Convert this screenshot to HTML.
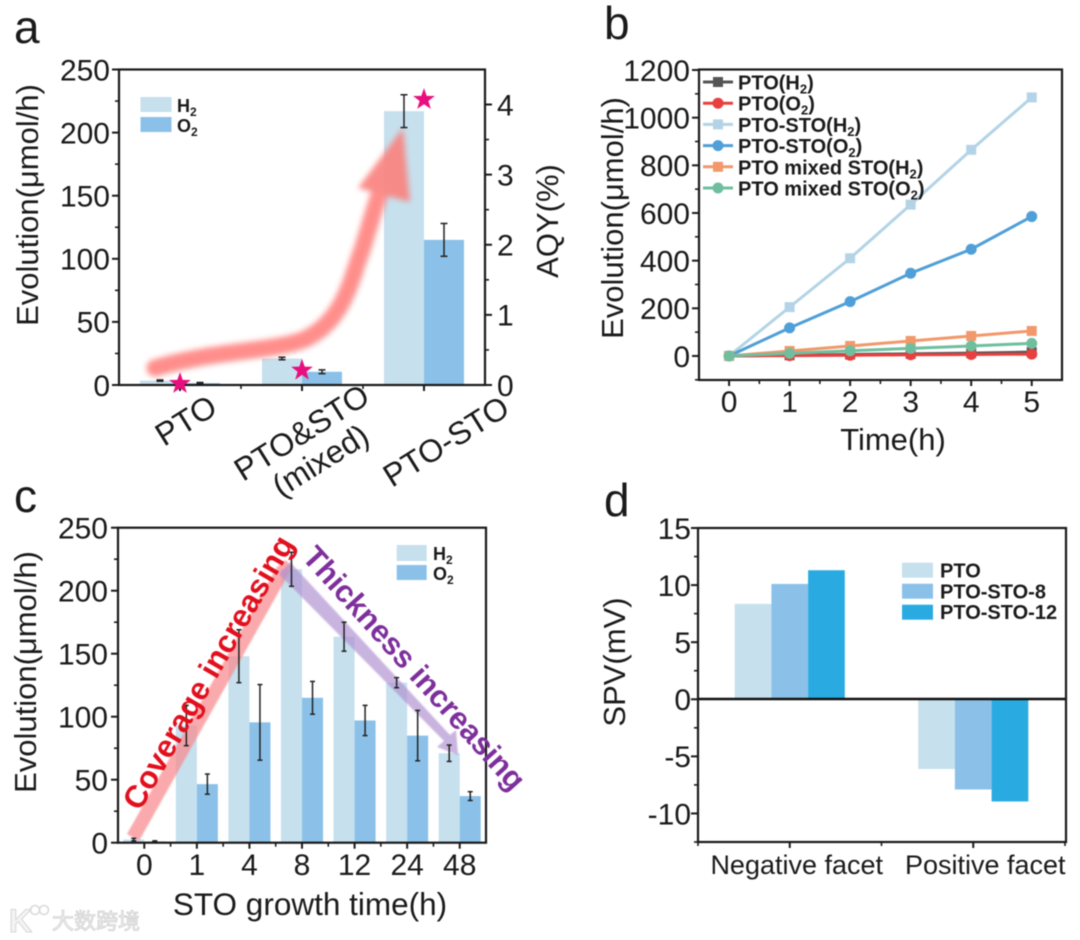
<!DOCTYPE html>
<html lang="en">
<head>
<meta charset="utf-8">
<title>Photocatalytic evolution charts</title>
<style>
html,body{margin:0;padding:0;background:#fff;width:1080px;height:940px;overflow:hidden}
svg{display:block;filter:blur(0.45px)}
text{font-family:"Liberation Sans","Noto Sans CJK SC",sans-serif;fill:#1a1a1a}
.title{font-size:31px}
.panel{font-size:46px}
.leg{font-size:18px;font-weight:bold}
.legb{font-size:20px;font-weight:bold}
.cat{font-size:32px}
</style>
</head>
<body>
<svg id="figure" width="1080" height="940" viewBox="0 0 1080 940" xmlns="http://www.w3.org/2000/svg">
<defs>
<filter id="soft" x="-20%" y="-20%" width="140%" height="140%"><feGaussianBlur stdDeviation="2.9"/></filter>
<filter id="softer" x="-20%" y="-20%" width="140%" height="140%"><feGaussianBlur stdDeviation="0.7"/></filter>
</defs>

<g id="panel-a">
<text class="panel" x="14" y="43">a</text>
<g id="a-bars"></g>
<g filter="url(#soft)" opacity="0.93">
<path d="M155,368 C215,350 270,352 303,340 C345,322 352,275 362,250 C370,225 375,205 382,187" fill="none" stroke="#ff8683" stroke-width="17" stroke-linecap="round"/>
<polygon points="403,128 358,188 410,202" fill="#f98480"/>
</g>
<g id="a-errors"></g>
<rect x="119" y="69.5" width="366" height="315.5" fill="none" stroke="#1a1a1a" stroke-width="2.2"/>
<g id="a-axes"></g>
<g id="a-stars"></g>
<g id="a-legend"></g>
<text class="title" transform="translate(38,205) rotate(-90)" text-anchor="middle">Evolution(μmol/h)</text>
<text class="title" transform="translate(558,221) rotate(-90)" text-anchor="middle">AQY(%)</text>
<text class="cat" transform="translate(164,447) rotate(-32)">PTO</text>
<text class="cat" transform="translate(243,482) rotate(-32)">PTO&amp;STO</text>
<text class="cat" transform="translate(281,498) rotate(-32)">(mixed)</text>
<text class="cat" transform="translate(392,488) rotate(-32)">PTO-STO</text>
</g>

<g id="panel-b">
<text class="panel" x="604" y="39">b</text>
<rect x="699" y="69.5" width="363" height="310.5" fill="none" stroke="#1a1a1a" stroke-width="2.2"/>
<g id="b-axes"></g>
<g id="b-lines"></g>
<g id="b-legend"></g>
<text class="title" transform="translate(623,218) rotate(-90)" text-anchor="middle">Evolution(μmol/h)</text>
<text class="title" x="893" y="450" text-anchor="middle">Time(h)</text>
</g>

<g id="panel-c">
<text class="panel" x="14" y="512">c</text>
<g id="c-bars"></g>
<g opacity="0.72" filter="url(#softer)">
<polygon points="127,834 139,841 292,568 286,560 277,567" fill="#f98a8c"/>
</g>
<g opacity="0.7" filter="url(#softer)">
<polygon points="290,562 279,574 444,741 437,747 458,755 456,730 450,735" fill="#b294d2"/>
</g>
<g id="c-errors"></g>
<rect x="118" y="527.7" width="368" height="315" fill="none" stroke="#1a1a1a" stroke-width="2.2"/>
<g id="c-axes"></g>
<g id="c-legend"></g>
<text transform="translate(140,812) rotate(-60)" style="font-size:31.5px;font-weight:bold;fill:#e2101e">Coverage increasing</text>
<text transform="translate(301,558) rotate(48)" style="font-size:31px;font-weight:bold;fill:#7d2f9c">Thickness increasing</text>
<text class="title" transform="translate(36,672) rotate(-90)" text-anchor="middle">Evolution(μmol/h)</text>
<text class="title" style="font-size:31.5px" x="310" y="915" text-anchor="middle">STO growth time(h)</text>
</g>

<g id="panel-d">
<text class="panel" x="604" y="516">d</text>
<g id="d-bars"></g>
<line x1="698" x2="1066" y1="699" y2="699" stroke="#111" stroke-width="2.4"/>
<rect x="698" y="528" width="368" height="314" fill="none" stroke="#1a1a1a" stroke-width="2.2"/>
<g id="d-axes"></g>
<g id="d-legend"></g>
<text class="title" transform="translate(625,662) rotate(-90)" text-anchor="middle">SPV(mV)</text>
</g>

<g opacity="0.95">
<text x="9" y="932" style="font-size:32px;fill:#f4f4f4;stroke:#d4d4d4;stroke-width:1;font-weight:bold">K</text>
<circle cx="35" cy="910" r="4.5" fill="none" stroke="#d8d8d8" stroke-width="1.6"/>
<circle cx="44" cy="910" r="4.5" fill="none" stroke="#d8d8d8" stroke-width="1.6"/>
<text x="52" y="929" style="font-size:22px;fill:#f0f0f0;stroke:#cfcfcf;stroke-width:0.8">大数跨境</text>
</g>
</svg>

<script>
const aCategories = ['PTO', 'PTO&STO', 'PTO-STO'];
const aH2 = [3.5, 21, 217];
const aO2 = [1.5, 10.5, 115];
const aH2Err = [0.5, 1, 13];
const aO2Err = [0.5, 1.5, 13];
const aAqy = [0.02, 0.21, 4.07];
const aTicks = [0, 50, 100, 150, 200, 250];
const aMinor = [25, 75, 125, 175, 225];
const aRightTicks = [0, 1, 2, 3, 4];
const aRightMinor = [0.5, 1.5, 2.5, 3.5];

const bTimes = [0, 1, 2, 3, 4, 5];
const bPtoH2 = [0, 3, 6, 9, 12, 16];
const bPtoO2 = [0, 1.5, 3, 5, 6, 8];
const bStoH2 = [0, 205, 410, 635, 865, 1085];
const bStoO2 = [0, 118, 228, 347, 448, 585];
const bMixH2 = [0, 21, 42, 63, 84, 105];
const bMixO2 = [0, 11, 22, 32, 42, 53];
const bSeriesNames = ['PTO', 'PTO', 'PTO-STO', 'PTO-STO', 'PTO mixed STO', 'PTO mixed STO'];
const bSeriesGas = ['H', 'O', 'H', 'O', 'H', 'O'];
const bYTicks = [0, 200, 400, 600, 800, 1000, 1200];
const bYMinor = [-100, 100, 300, 500, 700, 900, 1100];
const bXMinor = [0.5, 1.5, 2.5, 3.5, 4.5];

const cCategories = ['0', '1', '4', '8', '12', '24', '48'];
const cH2 = [2.5, 93, 148, 217, 163.5, 127, 71];
const cO2 = [1, 46.5, 95.5, 115, 97, 85, 37];
const cH2Err = [1, 16, 21, 13.5, 11.5, 4, 6.5];
const cO2Err = [0.5, 8, 30, 13, 12, 20, 3.5];
const cTicks = [0, 50, 100, 150, 200, 250];
const cMinor = [25, 75, 125, 175, 225];

const dCategories = ['Negative facet', 'Positive facet'];
const dSeriesNames = ['PTO', 'PTO-STO-8', 'PTO-STO-12'];
const dPto = [8.35, -6.1];
const dSto8 = [10.1, -7.9];
const dSto12 = [11.3, -8.95];
const dTicks = [-10, -5, 0, 5, 10, 15];
const dMinor = [-12.5, -7.5, -2.5, 2.5, 7.5, 12.5];

const NS = 'http://www.w3.org/2000/svg';
const INK = '#1a1a1a';
const PALE = '#c6e0ee';
const MID = '#8bc1e9';
const DEEP = '#29abe2';
const bColors = ['#555555', '#e8403f', '#b3d4e6', '#4f9fd8', '#f2986a', '#6fbf9f'];

function linear(d0, d1, r0, r1) {
  return function (v) { return r0 + (v - d0) * (r1 - r0) / (d1 - d0); };
}
function make(tag, attrs, parent) {
  const n = document.createElementNS(NS, tag);
  for (const k in attrs) n.setAttribute(k, attrs[k]);
  parent.appendChild(n);
  return n;
}
function $(id) { return document.getElementById(id); }

function yAxis(parent, scale, ticks, minors, edge, dir, labelX, anchor, prefix, fontSize) {
  ticks.forEach(function (v) {
    const t = make('line', { x1: edge, x2: edge + dir * 7, y1: scale(v), y2: scale(v), stroke: INK, 'stroke-width': 2 }, parent);
    
    
    const l = make('text', { x: labelX, y: scale(v) + fontSize * 0.36, 'text-anchor': anchor, style: 'font-size:' + fontSize + 'px' }, parent);
    l.textContent = String(v);
    
    
  });
  minors.forEach(function (v) {
    const t = make('line', { x1: edge, x2: edge + dir * 4, y1: scale(v), y2: scale(v), stroke: INK, 'stroke-width': 1.6 }, parent);
    
    
  });
}
function xAxis(parent, scale, positions, labels, minors, edge, labelY, prefix, fontSize, labelShift) {
  positions.forEach(function (v, i) {
    const t = make('line', { x1: scale(v), x2: scale(v), y1: edge, y2: edge + 6, stroke: INK, 'stroke-width': 2 }, parent);
    
    
    if (labels) {
      const shift = labelShift ? labelShift(i) : 0;
      const l = make('text', { x: scale(v) + shift, y: labelY, 'text-anchor': 'middle', style: 'font-size:' + fontSize + 'px' }, parent);
      l.textContent = labels[i];
      
      
    }
  });
  minors.forEach(function (v) {
    const t = make('line', { x1: scale(v), x2: scale(v), y1: edge, y2: edge + 4, stroke: INK, 'stroke-width': 1.6 }, parent);
    
    
  });
}
function bar(parent, x0, x1, yA, yB, fill, name) {
  const b = make('rect', { x: x0, y: Math.min(yA, yB), width: x1 - x0, height: Math.abs(yB - yA), fill: fill }, parent);
  
  
  return b;
}
function errorBar(parent, x, yTop, yBot, cap, name) {
  const g = make('g', { stroke: '#222', 'stroke-width': 1.5 }, parent);
  
  
  make('line', { x1: x, x2: x, y1: yTop, y2: yBot }, g);
  make('line', { x1: x - cap, x2: x + cap, y1: yTop, y2: yTop }, g);
  make('line', { x1: x - cap, x2: x + cap, y1: yBot, y2: yBot }, g);
}
function legendSwatch(parent, x, y, w, h, fill, name) {
  const s = make('rect', { x: x, y: y, width: w, height: h, fill: fill }, parent);
  
  
}
function legendGas(parent, x, y, gas, name) {
  const t = make('text', { x: x, y: y, class: 'leg' }, parent);
  t.innerHTML = gas + '<tspan dy="4" style="font-size:12px">2</tspan>';
  
  
}

/* Panel a */
const xA = linear(-0.5, 2.5, 119, 485);
const yA = linear(0, 250, 385, 69.5);
const yAqy = linear(0, 4, 385, 104.5);
const aBarW = 0.328;
aCategories.forEach(function (c, i) {
  bar($('a-bars'), xA(i - aBarW), xA(i), yA(aH2[i]), yA(0), PALE, 'a-bar-h2-' + i);
  bar($('a-bars'), xA(i), xA(i + aBarW), yA(aO2[i]), yA(0), MID, 'a-bar-o2-' + i);
  errorBar($('a-errors'), xA(i - aBarW / 2), yA(aH2[i] + aH2Err[i]), yA(aH2[i] - aH2Err[i]), 3.5, 'a-error-h2-' + i);
  errorBar($('a-errors'), xA(i + aBarW / 2), yA(aO2[i] + aO2Err[i]), yA(aO2[i] - aO2Err[i]), 3.5, 'a-error-o2-' + i);
  const R = 11.5, r = 4.6;
  const pts = [];
  for (let k = 0; k < 10; k++) {
    const a = -Math.PI / 2 + k * Math.PI / 5;
    const rad = k % 2 ? r : R;
    pts.push((xA(i) + rad * Math.cos(a)).toFixed(1) + ',' + (yAqy(aAqy[i]) + rad * Math.sin(a)).toFixed(1));
  }
  const star = make('polygon', { points: pts.join(' '), fill: '#e90e7e' }, $('a-stars'));
  
  
});
yAxis($('a-axes'), yA, aTicks, aMinor, 119, -1, 110, 'end', 'a-y', 30);
yAxis($('a-axes'), yAqy, aRightTicks, aRightMinor, 485, 1, 497, 'start', 'a-right-y', 30);
xAxis($('a-axes'), xA, [0, 1, 2], null, [0.5, 1.5], 385, 0, 'a-x', 30);
legendSwatch($('a-legend'), 140.5, 97, 31, 15, PALE, 'a-legend-h2-swatch');
legendSwatch($('a-legend'), 140.5, 117, 31, 15, MID, 'a-legend-o2-swatch');
legendGas($('a-legend'), 177, 112, 'H', 'a-legend-h2');
legendGas($('a-legend'), 177, 132, 'O', 'a-legend-o2');

/* Panel b */
const xB = linear(-0.5, 5.5, 698.8, 1062);
const yB = linear(-100, 1200, 379.8, 70);
yAxis($('b-axes'), yB, bYTicks, bYMinor, 699, -1, 690, 'end', 'b-y', 30);
xAxis($('b-axes'), xB, bTimes, bTimes.map(String), bXMinor, 380, 412, 'b-x', 30);
[bPtoH2, bPtoO2, bStoH2, bStoO2, bMixH2, bMixO2].forEach(function (vals, s) {
  const g = make('g', {}, $('b-lines'));
  
  
  const line = make('polyline', { points: vals.map(function (v, i) { return xB(bTimes[i]) + ',' + yB(v); }).join(' '), fill: 'none', stroke: bColors[s], 'stroke-width': 3 }, g);
  
  
  vals.forEach(function (v, i) {
    const cx = xB(bTimes[i]), cy = yB(v);
    const m = s % 2 === 0
      ? make('rect', { x: cx - 5, y: cy - 5, width: 10, height: 10, fill: bColors[s] }, g)
      : make('circle', { cx: cx, cy: cy, r: 5.5, fill: bColors[s] }, g);
    
    
  });
  const ly = 82 + s * 21.2;
  const lg = make('g', {}, $('b-legend'));
  
  
  make('line', { x1: 703, x2: 733, y1: ly, y2: ly, stroke: bColors[s], 'stroke-width': 3 }, lg);
  if (s % 2 === 0) make('rect', { x: 713, y: ly - 5, width: 10, height: 10, fill: bColors[s] }, lg);
  else make('circle', { cx: 718, cy: ly, r: 5.5, fill: bColors[s] }, lg);
  const lt = make('text', { x: 738, y: ly + 7.5, class: 'legb' }, lg);
  lt.innerHTML = bSeriesNames[s] + '(' + bSeriesGas[s] + '<tspan dy="4" style="font-size:13px">2</tspan><tspan dy="-4">)</tspan>';
});

/* Panel c */
const xC = linear(-0.5, 6.5, 118, 486);
const yC = linear(0, 250, 842.7, 527.7);
const cBarW = 0.4;
cCategories.forEach(function (c, i) {
  bar($('c-bars'), xC(i - cBarW), xC(i), yC(cH2[i]), yC(0), PALE, 'c-bar-h2-' + c);
  bar($('c-bars'), xC(i), xC(i + cBarW), yC(cO2[i]), yC(0), MID, 'c-bar-o2-' + c);
  errorBar($('c-errors'), xC(i - cBarW / 2), yC(cH2[i] + cH2Err[i]), yC(cH2[i] - cH2Err[i]), 2.5, 'c-error-h2-' + c);
  errorBar($('c-errors'), xC(i + cBarW / 2), yC(cO2[i] + cO2Err[i]), yC(cO2[i] - cO2Err[i]), 2.5, 'c-error-o2-' + c);
});
yAxis($('c-axes'), yC, cTicks, cMinor, 118, -1, 108, 'end', 'c-y', 30);
xAxis($('c-axes'), xC, cCategories.map(function (c, i) { return i; }), cCategories, [0.5, 1.5, 2.5, 3.5, 4.5, 5.5], 842.7, 875, 'c-x', 30);
legendSwatch($('c-legend'), 396.7, 545, 30, 16, PALE, 'c-legend-h2-swatch');
legendSwatch($('c-legend'), 396.7, 565, 30, 15, MID, 'c-legend-o2-swatch');
legendGas($('c-legend'), 433, 560, 'H', 'c-legend-h2');
legendGas($('c-legend'), 433, 580, 'O', 'c-legend-o2');

/* Panel d */
const xD = linear(-0.5, 1.5, 698, 1065);
const yD = linear(-12.5, 15, 842, 528);
const dBarW = 0.2;
const dColors = [PALE, MID, DEEP];
[dPto, dSto8, dSto12].forEach(function (vals, s) {
  vals.forEach(function (v, i) {
    const left = xD(i + (s - 1.5) * dBarW);
    const right = xD(i + (s - 0.5) * dBarW);
    bar($('d-bars'), left, right, yD(v), yD(0), dColors[s], 'd-bar-' + s + '-' + i);
  });
  legendSwatch($('d-legend'), 902, 562.7 + s * 21, 31, 15, dColors[s], 'd-legend-swatch-' + s);
  const lt = make('text', { x: 940, y: 577.5 + s * 20.8, class: 'legb' }, $('d-legend'));
  lt.textContent = dSeriesNames[s];
  
  
});
yAxis($('d-axes'), yD, dTicks, dMinor, 698, -1, 691, 'end', 'd-y', 30);
xAxis($('d-axes'), xD, [0, 1], dCategories, [-0.5, 0.5, 1.5], 842, 874, 'd-x', 27, function (i) { return 7 + 5 * i; });
</script>
</body>
</html>
